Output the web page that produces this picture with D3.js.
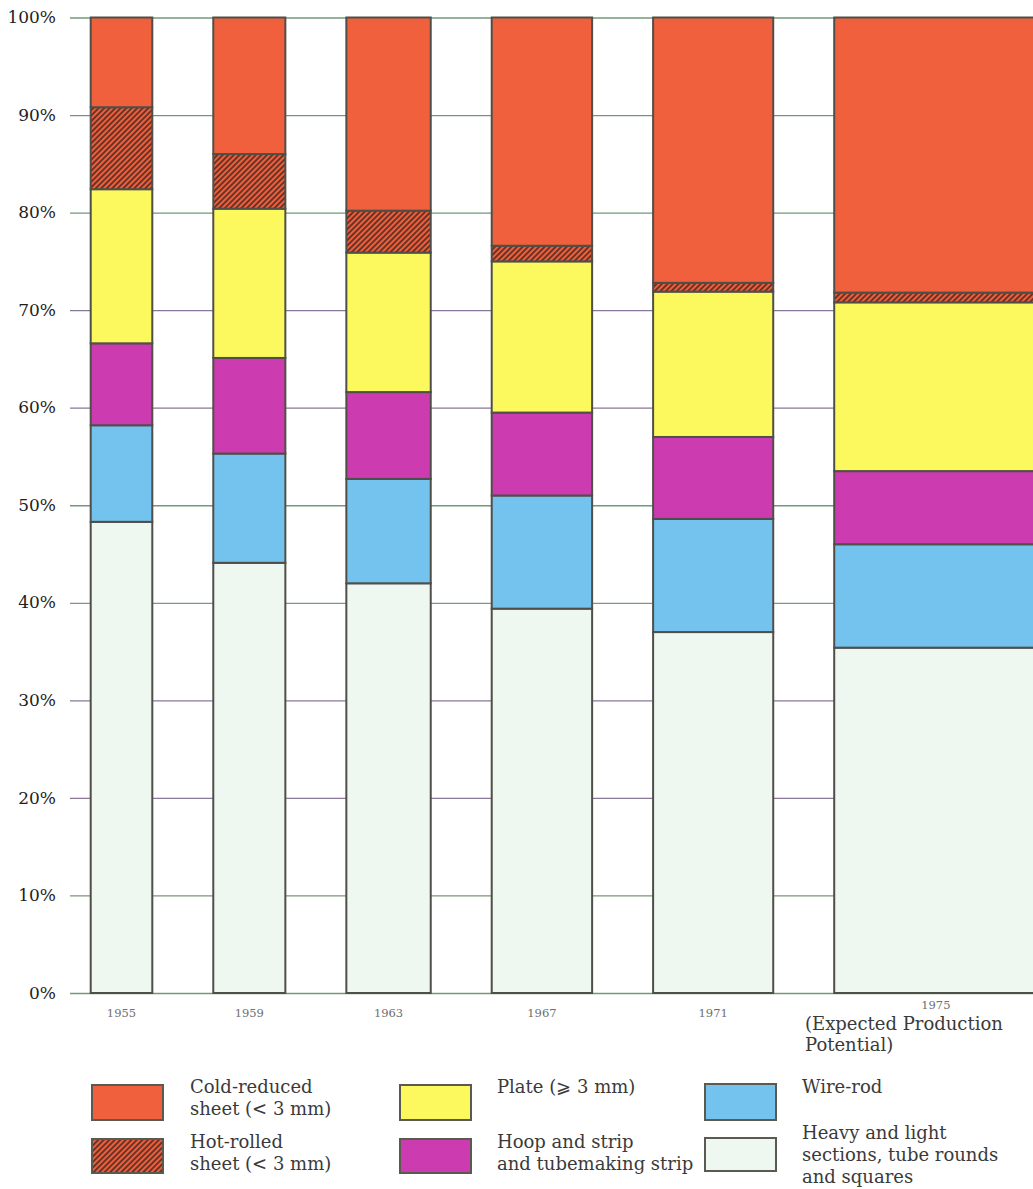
<!DOCTYPE html>
<html>
<head>
<meta charset="utf-8">
<script src="https://cdn.jsdelivr.net/npm/d3@7"></script>
<style>
  html, body { margin: 0; padding: 0; background: #ffffff; }
  svg { display: block; }
</style>
</head>
<body>
<div id="chart"></div>
<script>
// ---------------- DATA ----------------
const years = ["1955", "1959", "1963", "1967", "1971", "1975"];
// relative output index (bar widths proportional to output, 1955 = 100)
const outputIndex = [100, 117, 137, 163, 195, 330];
// shares in % (bottom to top)
const heavySections = [48.3, 44.1, 42.0, 39.4, 37.0, 35.4];
const wireRod       = [9.9, 11.2, 10.7, 11.6, 11.6, 10.6];
const hoopStrip     = [8.4, 9.8, 8.9, 8.5, 8.4, 7.5];
const plate         = [15.8, 15.3, 14.3, 15.5, 14.9, 17.3];
const hotRolled     = [8.4, 5.6, 4.3, 1.6, 0.9, 1.0];
const coldReduced   = [9.2, 14.0, 19.8, 23.4, 27.2, 28.2];
const yTicks = [0, 10, 20, 30, 40, 50, 60, 70, 80, 90, 100];

const seriesKeys = ["heavy", "wire", "hoop", "plate", "hot", "cold"];
const seriesValues = {
  heavy: heavySections, wire: wireRod, hoop: hoopStrip,
  plate: plate, hot: hotRolled, cold: coldReduced
};
const legendItems = [
  { key: "cold",  lines: ["Cold-reduced", "sheet (< 3 mm)"] },
  { key: "hot",   lines: ["Hot-rolled", "sheet (< 3 mm)"] },
  { key: "plate", lines: ["Plate (\u2A7E 3 mm)"] },
  { key: "hoop",  lines: ["Hoop and strip", "and tubemaking strip"] },
  { key: "wire",  lines: ["Wire-rod"] },
  { key: "heavy", lines: ["Heavy and light", "sections, tube rounds", "and squares"] }
];

// ---------------- LAYOUT / STYLE ----------------
const W = 1033, H = 1189;
const colors = {
  cold: "#f1603d", hot: "url(#hatch)", plate: "#fcf95e",
  hoop: "#cd3bb0", wire: "#74c3ef", heavy: "#eef8f1"
};
const serif = "'DejaVu Serif', 'Liberation Serif', serif";
const legendFont = "'DejaVu Serif', 'Liberation Serif', serif";
const legendSize = 18;
const gapUnits = 99;

const table = years.map((y, i) => {
  const row = { year: y, output: outputIndex[i] };
  seriesKeys.forEach(k => row[k] = seriesValues[k][i]);
  return row;
});
// cumulative start of each bar in output units
let acc = 0;
table.forEach((r, i) => { r.start = acc; acc += r.output + gapUnits; });
const totalUnits = acc - gapUnits;

const pxPerUnit = 0.616;
const x = d3.scaleLinear().domain([0, totalUnits]).range([90.7, 90.7 + totalUnits * pxPerUnit]);
const y = d3.scaleLinear().domain([0, 100]).range([993, 17.5]);

const svg = d3.select("#chart").append("svg")
  .attr("width", W).attr("height", H)
  .attr("viewBox", `0 0 ${W} ${H}`);

const defs = svg.append("defs");
const pat = defs.append("pattern")
  .attr("id", "hatch").attr("patternUnits", "userSpaceOnUse")
  .attr("width", 3.9).attr("height", 3.9)
  .attr("patternTransform", "rotate(45)");
pat.append("rect").attr("width", 3.9).attr("height", 3.9).attr("fill", "#ef5f3b");
pat.append("line").attr("x1", 1.95).attr("y1", 0).attr("x2", 1.95).attr("y2", 3.9)
  .attr("stroke", "#3e2620").attr("stroke-width", 1.5);

// ---------------- GRID / Y AXIS ----------------
const gridColors = ["#6f9a78", "#7a9478", "#8a7896", "#86789a", "#7a9a80", "#6f9a78",
                    "#8a7896", "#86789a", "#6f9a78", "#7a9478", "#6f9a78"];
const yAxis = d3.axisLeft(y)
  .tickValues(yTicks)
  .tickFormat(d => d + "%")
  .tickSize(-(W - 70))
  .tickPadding(14);
const gy = svg.append("g").attr("transform", "translate(70,0)").call(yAxis);
gy.select(".domain").remove();
gy.selectAll(".tick line")
  .attr("stroke", (d, i) => gridColors[i % gridColors.length])
  .attr("stroke-width", 1.3);
gy.selectAll(".tick text")
  .attr("font-family", serif).attr("font-size", 17)
  .attr("fill", "#1e1e1e").attr("dy", "0.3em");

// ---------------- BARS ----------------
const stack = d3.stack().keys(seriesKeys);
const layers = stack(table);
const gBars = svg.append("g");
layers.forEach(layer => {
  gBars.append("g").selectAll("rect")
    .data(layer)
    .join("rect")
    .attr("x", d => x(d.data.start))
    .attr("width", d => x(d.data.start + d.data.output) - x(d.data.start))
    .attr("y", d => y(d[1]))
    .attr("height", d => y(d[0]) - y(d[1]))
    .attr("fill", colors[layer.key])
    .attr("stroke", "#4f4e48")
    .attr("stroke-width", 2);
});

// ---------------- X LABELS ----------------
const gx = svg.append("g");
gx.selectAll("text")
  .data(table)
  .join("text")
  .attr("x", d => x(d.start + d.output / 2))
  .attr("y", (d, i) => i === table.length - 1 ? 1009 : 1017)
  .attr("text-anchor", "middle")
  .attr("font-family", serif).attr("font-size", 11.5)
  .attr("fill", "#6e6e6e")
  .text(d => d.year);

const note = svg.append("text")
  .attr("font-family", legendFont).attr("font-size", legendSize).attr("fill", "#3a3a3a");
note.append("tspan").attr("x", 805).attr("y", 1030).text("(Expected Production");
note.append("tspan").attr("x", 805).attr("y", 1051).text("Potential)");

// ---------------- LEGEND ----------------
const legendPos = {
  cold:  { sx: 92,  sy: 1085, th: 35, tx: 190, ty: 1093 },
  hot:   { sx: 92,  sy: 1139, th: 34, tx: 190, ty: 1148 },
  plate: { sx: 400, sy: 1085, th: 35, tx: 497, ty: 1093 },
  hoop:  { sx: 400, sy: 1139, th: 34, tx: 497, ty: 1148 },
  wire:  { sx: 705, sy: 1084, th: 36, tx: 802, ty: 1093 },
  heavy: { sx: 705, sy: 1138, th: 33, tx: 802, ty: 1139 }
};
const gLeg = svg.append("g");
legendItems.forEach(item => {
  const p = legendPos[item.key];
  gLeg.append("rect")
    .attr("x", p.sx).attr("y", p.sy)
    .attr("width", 71).attr("height", p.th)
    .attr("fill", colors[item.key])
    .attr("stroke", "#5a5a50").attr("stroke-width", 2);
  const t = gLeg.append("text")
    .attr("font-family", legendFont).attr("font-size", legendSize).attr("fill", "#3a3a3a");
  item.lines.forEach((ln, j) => {
    t.append("tspan").attr("x", p.tx).attr("y", p.ty + j * 22).text(ln);
  });
});
</script>
</body>
</html>
